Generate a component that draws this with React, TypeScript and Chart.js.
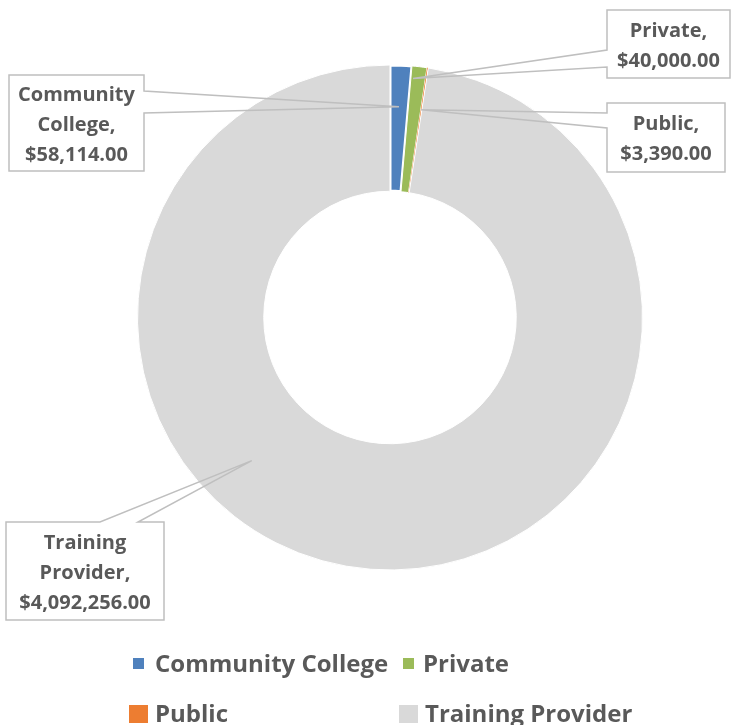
import React, { useEffect, useRef } from "react";
import { Chart, registerables } from "chart.js";
Chart.register(...registerables);

const categories = ["Community College", "Private", "Public", "Training Provider"];
const values = [58114, 40000, 3390, 4092256];
const valueLabels = ["$58,114.00", "$40,000.00", "$3,390.00", "$4,092,256.00"];
const colors = ["#4f81bd", "#9bbb59", "#ed7d31", "#d9d9d9"];

const FONT = "'Open Sans', 'Noto Sans', sans-serif";
const TEXT = "#595959";

// callout layout: box, wedge side, wedge base, tip (angle deg from top, radius)
const callouts = [
  { box: [9, 75, 135, 96], side: "right", base: [91, 113], tip: [2.44, 211] },
  { box: [607, 10, 123, 68], side: "left", base: [50, 67], tip: [5.5, 240] },
  { box: [607, 103, 118, 69], side: "left", base: [113, 128], tip: [8.5, 210] },
  { box: [6, 522, 158, 98], side: "top", base: [100, 138], tip: [224, 199] },
];

function labelLines(i: number): string[] {
  const words = categories[i].split(" ");
  words[words.length - 1] += ",";
  return [...words, valueLabels[i]];
}

const calloutPlugin = {
  id: "callouts",
  afterDraw(chart: any) {
    const ctx = chart.ctx;
    const arc = chart.getDatasetMeta(0).data[0];
    const cx = arc.x, cy = arc.y;
    ctx.save();
    callouts.forEach((c, i) => {
      const [x, y, w, h] = c.box;
      const a = (c.tip[0] * Math.PI) / 180;
      const tx = cx + c.tip[1] * Math.sin(a);
      const ty = cy - c.tip[1] * Math.cos(a);
      const pts: number[][] = [];
      if (c.side === "right") {
        pts.push([x, y], [x + w, y], [x + w, c.base[0]], [tx, ty], [x + w, c.base[1]], [x + w, y + h], [x, y + h]);
      } else if (c.side === "left") {
        pts.push([x, y], [x + w, y], [x + w, y + h], [x, y + h], [x, c.base[1]], [tx, ty], [x, c.base[0]]);
      } else {
        pts.push([x, y], [c.base[0], y], [tx, ty], [c.base[1], y], [x + w, y], [x + w, y + h], [x, y + h]);
      }
      ctx.beginPath();
      pts.forEach((p, k) => (k ? ctx.lineTo(p[0], p[1]) : ctx.moveTo(p[0], p[1])));
      ctx.closePath();
      ctx.strokeStyle = "#bfbfbf";
      ctx.lineWidth = 1.5;
      ctx.stroke();
      const lines = labelLines(i);
      ctx.fillStyle = TEXT;
      ctx.font = `bold 20px ${FONT}`;
      ctx.textAlign = "center";
      ctx.textBaseline = "middle";
      const lh = 30;
      const y0 = y + h / 2 - ((lines.length - 1) * lh) / 2 + 2;
      lines.forEach((t, k) => ctx.fillText(t, x + w / 2, y0 + k * lh));
    });

    // legend
    const items = [
      { box: [133, 658, 11, 11], tx: 155, ty: 672 },
      { box: [403, 658, 11, 11], tx: 423, ty: 672 },
      { box: [129, 705, 19, 18], tx: 155, ty: 722 },
      { box: [399, 705, 19, 18], tx: 425, ty: 722 },
    ];
    ctx.font = `bold 24px ${FONT}`;
    ctx.textAlign = "left";
    ctx.textBaseline = "alphabetic";
    items.forEach((it, i) => {
      ctx.fillStyle = colors[i];
      ctx.fillRect(it.box[0], it.box[1], it.box[2], it.box[3]);
      ctx.fillStyle = TEXT;
      ctx.fillText(categories[i], it.tx, it.ty);
    });
    ctx.restore();
  },
};

export default function App() {
  const ref = useRef<HTMLCanvasElement>(null);
  useEffect(() => {
    const chart = new Chart(ref.current!, {
      type: "doughnut",
      data: {
        labels: categories,
        datasets: [
          {
            data: values,
            backgroundColor: colors,
            borderColor: "#ffffff",
            borderWidth: [3, 1, 0, 1],
          },
        ],
      },
      options: {
        responsive: false,
        animation: false,
        cutout: "50%",
        layout: { padding: { left: 136, right: 87, top: 63, bottom: 153 } },
        plugins: { legend: { display: false }, tooltip: { enabled: false } },
      },
      plugins: [calloutPlugin],
    });
    return () => chart.destroy();
  }, []);
  return (
    <div style={{ position: "absolute", left: 0, top: 0, width: 731, height: 725, background: "#fff" }}>
      <canvas ref={ref} width={731} height={725} style={{ display: "block" }} />
    </div>
  );
}
